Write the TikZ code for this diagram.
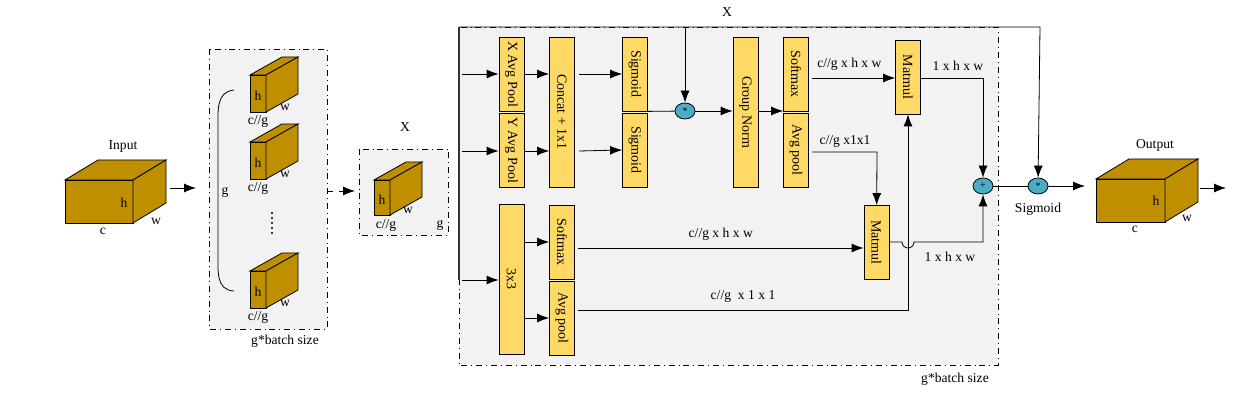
\documentclass[tikz,border=0pt]{standalone}
\usepackage{fontspec}
\setmainfont{Liberation Serif}
\usetikzlibrary{arrows.meta,positioning,backgrounds,shapes.geometric}
\definecolor{cubebrown}{HTML}{BF8F00}
\definecolor{boxyellow}{HTML}{FFD966}
\definecolor{opblue}{HTML}{4BACC6}
% cube: front lower-left x, y, width, height, depth-x, depth-y
\newcommand\cubeblock[6]{%
  \draw[fill=cubebrown] (#1,#2) rectangle ++(#3,-#4);
  \draw[fill=cubebrown] (#1,#2-#4) -- ++(#5,-#6) -- ++(#3,0) -- ++(-#5,#6) -- cycle;
  \draw[fill=cubebrown] (#1+#3,#2) -- ++(0,-#4) -- ++(#5,-#6) -- ++(0,#4) -- cycle;}
\begin{document}
\begin{tikzpicture}[x=0.5pt, y=-0.5pt, >={Latex[length=6pt,width=4.5pt]},
    every node/.style={font=\fontsize{6.8}{7}\selectfont},
    blk/.style={draw, fill=boxyellow, rotate=-90, inner sep=0, minimum height=12.5pt, font=\fontsize{7}{7}\selectfont},
    op/.style={draw, fill=opblue, ellipse, inner sep=0, minimum width=10pt, minimum height=8pt, font=\fontsize{5}{5}\selectfont},
    grp/.style={draw, dash dot, fill=black!5},
    line/.style={thick, draw=black!80}]
  \useasboundingbox (0,0) rectangle (1254,400);
  % group boxes
  \draw[grp] (459,27) rectangle (998,365);
  \draw[grp] (209,49) rectangle (327,329);
  \draw[grp] (359,149) rectangle (448,235);
  \node at (955,379) {g*batch size};
  \node at (285,341) {g*batch size};
  \node at (405,127) {X};
  \node at (727,12) {X};
  % input
  \cubeblock{65}{223}{68}{43}{33}{20}
  \node at (123,147) {Input};
  \node at (124,203) {h};
  \node at (156,221) {w};
  \node at (103,231) {c};
  \coordinate (in) at (170,188);
  \coordinate (grpL) at (196,188);
  \draw[->] (in) -- (grpL);
  % split groups
  \foreach \yb in {112,179,308}{
    \cubeblock{250}{\yb}{16}{37}{32}{18}
    \node at (258,\yb-16) {h};
    \node at (285,\yb-5) {w};
    \node at (258,\yb+9) {c//g};
  }
  \foreach \yd in {213,218,223,228,233}
    \fill (272,\yd) circle (0.6pt);
  \node at (225,192) {g};
  \draw (234,90) .. controls (216,92) and (218,110) .. (218,130) -- (218,252) .. controls (218,272) and (216,290) .. (234,291);
  \coordinate (grpR) at (327,191);
  \coordinate (xL) at (355,191);
  \draw[->, dashed] (grpR) -- (xL);
  % X
  \cubeblock{374}{215}{16}{35}{32}{18}
  \node at (382,200) {h};
  \node at (408,210) {w};
  \node at (386,225) {c//g};
  \node at (440,225) {g};
  % main block
  \node[blk, minimum width=37pt] (xp) at (511.5,74) {X Avg Pool};
  \node[blk, minimum width=37pt] (yp) at (511.5,150) {Y Avg Pool};
  \node[blk, minimum width=75pt] (cat) at (562,112) {Concat + 1x1};
  \node[blk, minimum width=37pt] (sg1) at (635,74) {Sigmoid};
  \node[blk, minimum width=37pt] (sg2) at (635,150) {Sigmoid};
  \node[op] (mul1) at (685,111) {*};
  \node[blk, minimum width=75pt] (gn) at (745.5,112) {Group Norm};
  \node[blk, minimum width=37pt] (sm1) at (796,74) {Softmax};
  \node[blk, minimum width=37pt] (ap1) at (796,150) {Avg pool};
  \node[blk, minimum width=37pt] (mm1) at (908,77) {Matmul};
  \node[blk, minimum width=37pt] (mm2) at (876.5,242.5) {Matmul};
  \node[blk, minimum width=75pt] (conv) at (511.5,279.5) {3x3};
  \node[blk, minimum width=37pt] (sm2) at (562,242) {Softmax};
  \node[blk, minimum width=37pt] (ap2) at (562,318) {Avg pool};
  \node[op] (add) at (983,186) {+};
  \node[op] (mul2) at (1038,186) {*};
  % inputs to main block
  \coordinate (top) at (459,27);
  \coordinate (bot) at (459,280);
  \draw[line] (top) -- (bot);
  \foreach \yy/\tg in {74/xp,151/yp,280/conv}
    \draw[->] (462,\yy) -- (\tg.south |- 0,\yy);
  \draw[->] (xp.north |- 0,74) -- (cat.south |- 0,74);
  \draw[->] (yp.north |- 0,151) -- (cat.south |- 0,151);
  \draw[->] (579,74) -- (sg1.south);
  \draw[->] (579,151) -- (sg2.south);
  \draw (sg1.north east) -- (mul1);
  \draw[->] (mul1) -- (gn.south |- mul1);
  \draw[->] (gn.north |- mul1) -- (sm1.south |- mul1);
  % skip X
  \draw[->] (top) -- (1040,27) -- (mul2);
  \draw[->] (685,27) -- (mul1);
  % top branch
  \draw[->] (812,78) -- node[above, pos=0.45]{c//g x h x w} (mm1.south |- 0,78);
  \draw[->] (812,152) -- (877,152) -- (mm2);
  \node at (845,141) {c//g x1x1};
  \draw[->] (mm1.north |- 0,78) -- (983,78) -- (add);
  \node at (958,66) {1 x h x w};
  % bottom branch
  \draw[->] (conv.north |- 0,242) -- (sm2);
  \draw[->] (conv.north |- 0,318) -- (ap2);
  \draw[->] (578,248) -- node[above]{c//g x h x w} (mm2.south |- 0,248);
  \draw[->] (578,310) -- node[above]{c//g\ \ x 1 x 1} (908,310) -- (mm1);
  \draw[->] (mm2.north |- 0,242) -- (902,242) arc[start angle=180, end angle=0, radius=6] -- (983,242) -- (add);
  \node at (950,257) {1 x h x w};
  % output
  \draw (add) -- (mul2);
  \node[below=1pt of mul2] {Sigmoid};
  \coordinate (outL) at (1085,186);
  \draw[->] (mul2) -- (outL);
  \cubeblock{1096}{222}{69}{43}{33}{20}
  \node at (1155,145) {Output};
  \node at (1156,201) {h};
  \node at (1187,218) {w};
  \node at (1135,229) {c};
  \coordinate (outA) at (1200,188);
  \coordinate (outB) at (1226,188);
  \draw[->] (outA) -- (outB);
\end{tikzpicture}
\end{document}
